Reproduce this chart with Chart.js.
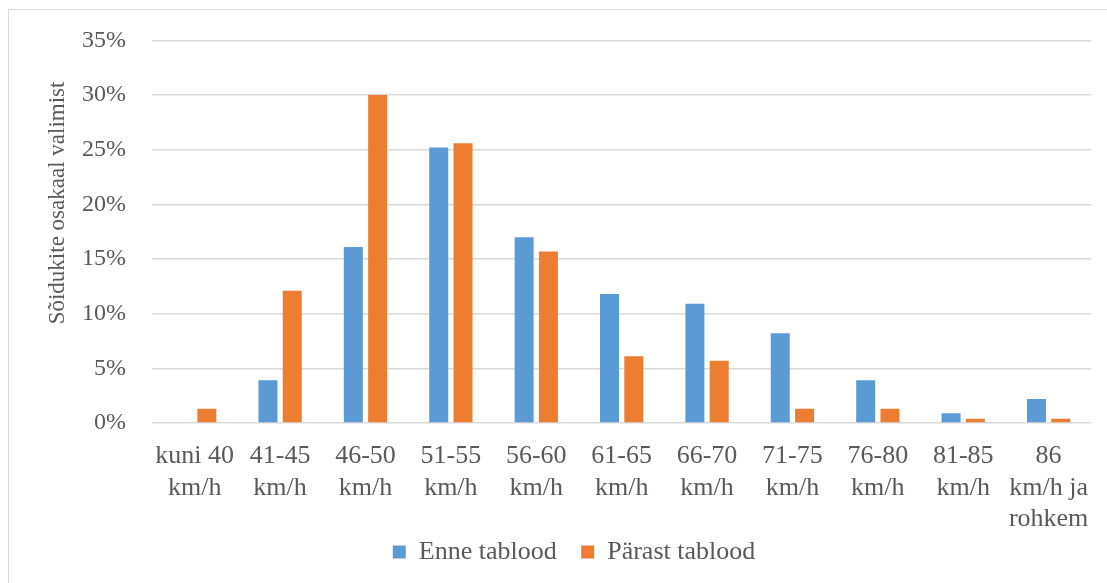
<!DOCTYPE html>
<html>
<head>
<meta charset="utf-8">
<title>Sõidukite kiirused enne ja pärast tablood</title>
<script src="https://cdn.jsdelivr.net/npm/chart.js@4/dist/chart.umd.min.js"></script>
<style>
  html, body { margin: 0; padding: 0; background: #fff; overflow: hidden; }
  #wrap { position: relative; width: 1107px; height: 583px; }
  #frame { position: absolute; left: 8px; top: 9px; width: 1200px; height: 700px;
           border: 1px solid #d9d9d9; box-sizing: border-box; }
  #chart { position: absolute; left: 0; top: 0; }
</style>
</head>
<body>
<div id="wrap">
  <div id="frame"></div>
  <canvas id="chart" width="1107" height="583"></canvas>
</div>
<script>
// Kiirusvahemikud (iga silt on mitmerealine)
const categories = [
  ['kuni 40', 'km/h'],
  ['41-45', 'km/h'],
  ['46-50', 'km/h'],
  ['51-55', 'km/h'],
  ['56-60', 'km/h'],
  ['61-65', 'km/h'],
  ['66-70', 'km/h'],
  ['71-75', 'km/h'],
  ['76-80', 'km/h'],
  ['81-85', 'km/h'],
  ['86', 'km/h ja', 'rohkem']
];

// Sõidukite osakaal valimist, %
const enneTablood   = [0, 3.9, 16.1, 25.2, 17.0, 11.8, 10.9, 8.2, 3.9, 0.9, 2.2];
const parastTablood = [1.3, 12.1, 30.0, 25.6, 15.7, 6.1, 5.7, 1.3, 1.3, 0.4, 0.4];

const seriesNames = ['Enne tablood', 'Pärast tablood'];
const yTicks = { min: 0, max: 35, step: 5 };
const yTitle = 'Sõidukite osakaal valimist';

const textColor = '#595959';
const serif = '"Liberation Serif", "Times New Roman", serif';
const nbsp = '\u00A0';

new Chart(document.getElementById('chart'), {
  type: 'bar',
  data: {
    labels: categories,
    datasets: [
      { label: seriesNames[0], data: enneTablood, backgroundColor: '#5b9bd5' },
      { label: seriesNames[1], data: parastTablood, backgroundColor: '#ed7d31' }
    ]
  },
  options: {
    responsive: false,
    animation: false,
    devicePixelRatio: 1,
    categoryPercentage: 0.569,
    barPercentage: 0.782,
    layout: { padding: { left: 56, right: 15, top: 39, bottom: 8 } },
    plugins: {
      tooltip: { enabled: false },
      legend: {
        position: 'bottom',
        labels: {
          boxWidth: 13,
          boxHeight: 13,
          padding: 5,
          color: textColor,
          font: { family: serif, size: 26 },
          // widen the gap after each legend entry without growing the legend's height
          generateLabels: (chart) => {
            const items = Chart.defaults.plugins.legend.labels.generateLabels(chart);
            items.forEach((it, i) => { if (i < items.length - 1) it.text += nbsp.repeat(3); });
            return items;
          }
        }
      }
    },
    scales: {
      x: {
        grid: { display: false, drawTicks: false },
        border: { display: false },
        ticks: {
          color: textColor,
          padding: 18,
          maxRotation: 0,
          autoSkip: false,
          font: { family: serif, size: 26 }
        },
        afterFit: (scale) => { scale.height = 111; }
      },
      y: {
        min: yTicks.min,
        max: yTicks.max,
        grid: { color: '#d9d9d9', lineWidth: 1.5, drawTicks: false },
        border: { display: false },
        ticks: {
          stepSize: yTicks.step,
          padding: 26,
          color: textColor,
          font: { family: serif, size: 24 },
          callback: (v) => v + '%'
        },
        title: {
          display: true,
          text: nbsp.repeat(10) + yTitle,
          color: textColor,
          padding: { top: -12, bottom: 0 },
          font: { family: serif, size: 23 }
        },
        afterFit: (scale) => { scale.width = 96; }
      }
    }
  }
});
</script>
</body>
</html>
